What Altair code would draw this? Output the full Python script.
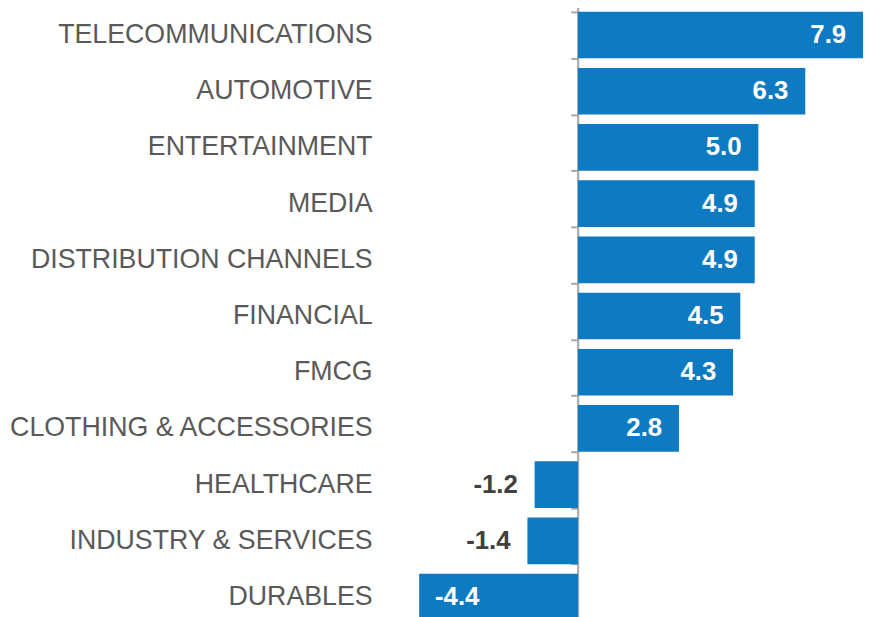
import altair as alt
import pandas as pd

categories = [
    "TELECOMMUNICATIONS", "AUTOMOTIVE", "ENTERTAINMENT", "MEDIA",
    "DISTRIBUTION CHANNELS", "FINANCIAL", "FMCG", "CLOTHING & ACCESSORIES",
    "HEALTHCARE", "INDUSTRY & SERVICES", "DURABLES",
]
values = [7.9, 6.3, 5.0, 4.9, 4.9, 4.5, 4.3, 2.8, -1.2, -1.4, -4.4]
labels = [f"{v:.1f}" for v in values]

df = pd.DataFrame({"category": categories, "value": values, "label": labels})

BAR = "#0E7AC2"
FONT = "Liberation Sans"

x = alt.X("value:Q", scale=alt.Scale(domain=[-4.4, 7.9], nice=False, zero=True), axis=None)
y = alt.Y(
    "category:N",
    sort=categories,
    scale=alt.Scale(paddingInner=0.17, paddingOuter=0.085, range=[-4, 620]),
    axis=alt.Axis(
        labels=False, title=None, offset=-160, tickBand="extent",
        tickSize=7, tickWidth=2, tickColor="#A6A6A6",
        domainColor="#A6A6A6", domainWidth=2, grid=False,
    ),
)

base = alt.Chart(df)

bars = base.mark_bar(color=BAR).encode(x=x, y=y)

cat_labels = base.mark_text(
    align="right", baseline="middle", font=FONT, fontSize=27, color="#595959"
).encode(y=y, x=alt.value(-47), text="category:N")

pos_labels = base.transform_filter("datum.value > 0").mark_text(
    align="right", baseline="middle", dx=-17, font=FONT, fontSize=26,
    fontWeight="bold", color="white"
).encode(x=x, y=y, text="label:N")

neg_small = base.transform_filter("datum.value < 0 && datum.value > -3").mark_text(
    align="right", baseline="middle", dx=-17, font=FONT, fontSize=26,
    fontWeight="bold", color="#404040"
).encode(x=x, y=y, text="label:N")

neg_big = base.transform_filter("datum.value <= -3").mark_text(
    align="left", baseline="middle", dx=16, font=FONT, fontSize=26,
    fontWeight="bold", color="white"
).encode(x=x, y=y, text="label:N")

chart = (
    alt.layer(bars, cat_labels, pos_labels, neg_small, neg_big)
    .properties(
        width=448, height=620,
        autosize=alt.AutoSizeParams(type="none"),
        padding={"left": 415, "top": 0, "right": 0, "bottom": 0},
    )
    .configure_view(stroke=None)
)

chart.save("out.html", embed_options={"renderer": "svg", "actions": False})
